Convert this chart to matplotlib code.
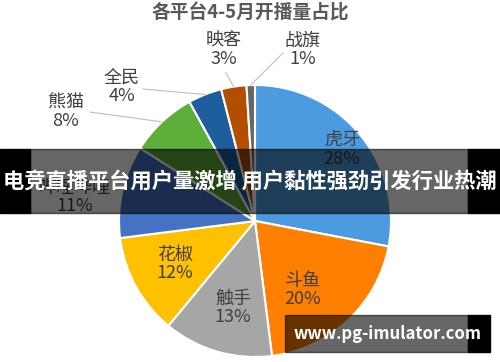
import matplotlib.pyplot as plt
import numpy as np
from matplotlib.patches import Rectangle

plt.rcParams['font.family'] = ['Noto Sans CJK SC', 'DejaVu Sans']

platforms = ['虎牙', '斗鱼', '触手', '花椒', '哔哩哔哩', '熊猫', '全民', '映客', '战旗']
shares = [28, 20, 13, 12, 11, 8, 4, 3, 1]
colors = ['#4C9BE0', '#FF7F00', '#A6A6A6', '#FFC000', '#4472C4',
          '#5DAE3A', '#1F5E9C', '#B34D00', '#666666']

# label positions in pixel coordinates (y from top)
label_pos = [(342, 150), (303, 290), (233, 308), (175, 264), (75, 197),
             (66, 112), (122, 87), (224, 50), (303, 50)]
outside = [False, False, False, False, False, True, True, True, True]
line_start = [None, None, None, None, None, (90, 112), (143, 89), (226, 73), (283, 53)]

W, H = 500, 362
fig = plt.figure(figsize=(5, 3.62), dpi=100)
ax = fig.add_axes([0, 0, 1, 1])

cx, cy, R = 255, H - 221, 136
wedges, _ = ax.pie(shares, colors=colors, startangle=90, counterclock=False,
                   center=(cx, cy), radius=R, frame=True,
                   wedgeprops=dict(edgecolor='white', linewidth=1.5))
ax.set_xlim(0, W)
ax.set_ylim(0, H)
ax.set_aspect('equal')
ax.axis('off')

for i, (name, val) in enumerate(zip(platforms, shares)):
    lx, ly = label_pos[i]
    ax.text(lx, H - ly, f'{name}\n{val}%', ha='center', va='center',
            fontsize=13, color='#404040', linespacing=1.05)
    if outside[i]:
        w = wedges[i]
        ang = np.deg2rad((w.theta1 + w.theta2) / 2)
        ex, ey = cx + R * np.cos(ang), cy + R * np.sin(ang)
        sx, sy = line_start[i]
        ax.plot([sx, ex], [H - sy, ey], color='#BFBFBF', lw=0.8)

ax.text(W / 2, H - 13, '各平台4-5月开播量占比', ha='center', va='center',
        fontsize=13.5, fontweight='bold', color='#595959')

# banner overlay
ax.add_patch(Rectangle((0, H - 213), 30, 64, color='black', zorder=5))
ax.add_patch(Rectangle((468, H - 213), 32, 64, color='black', zorder=5))
ax.add_patch(Rectangle((30, H - 213), 438, 64, color='black', alpha=0.6, zorder=5))
ax.text(W / 2, H - 182, '电竞直播平台用户量激增 用户黏性强劲引发行业热潮', ha='center',
        va='center', fontsize=15.3, fontweight='bold', color='white', zorder=6)

# watermark
ax.add_patch(Rectangle((285, H - 352), 183, 37, color='black', alpha=0.6, zorder=5))
ax.add_patch(Rectangle((468, H - 352), 22, 37, color='black', zorder=5))
ax.text(388, H - 334, 'www.pg-imulator.com', ha='center', va='center',
        fontsize=12, fontweight='bold', color='white', zorder=6)

fig.savefig('out.png', dpi=100)
